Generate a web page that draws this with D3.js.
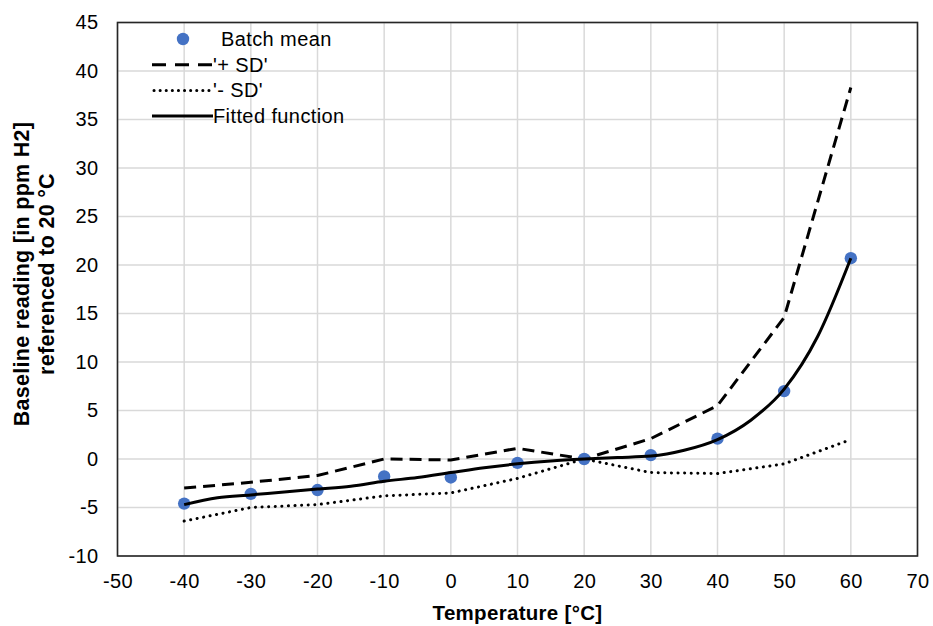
<!DOCTYPE html>
<html>
<head>
<meta charset="utf-8">
<script src="https://cdn.jsdelivr.net/npm/d3@7"></script>
<style>
  body { margin: 0; background: #fff; }
  text { font-family: "Liberation Sans", Arial, sans-serif; fill: #000; }
</style>
</head>
<body>
<div id="chart"></div>
<script>
// data
const temps = [-40, -30, -20, -10, 0, 10, 20, 30, 40, 50, 60];
const batchMean = [-4.6, -3.6, -3.2, -1.8, -1.9, -0.4, 0, 0.4, 2.1, 7.0, 20.7];
const plusSD = [-3.0, -2.4, -1.7, 0.0, -0.1, 1.1, 0, 2.1, 5.5, 14.6, 38.3];
const minusSD = [-6.4, -5.0, -4.7, -3.8, -3.5, -2.0, 0, -1.4, -1.5, -0.5, 2.0];
const fitTemps = [-40, -35, -30, -25, -20, -15, -10, -5, 0, 5, 10, 15, 20, 25, 30, 35, 40, 45, 50, 55, 60];
const fitValues = [-4.7, -4.0, -3.7, -3.4, -3.1, -2.8, -2.3, -1.9, -1.4, -0.9, -0.5, -0.2, 0, 0.15, 0.3, 0.9, 2.0, 4.0, 7.2, 12.6, 20.7];
const xTicks = d3.range(-50, 71, 10);
const yTicks = d3.range(-10, 46, 5);

const W = 933, H = 626;
const margin = {top: 22.5, right: 15.5, bottom: 70, left: 117.5},
    width = W - margin.left - margin.right,
    height = H - margin.top - margin.bottom;

const svg = d3.select("#chart")
    .append("svg")
    .attr("width", W)
    .attr("height", H);

const g = svg.append("g")
    .attr("transform", "translate(" + margin.left + "," + margin.top + ")");

const x = d3.scaleLinear().domain([-50, 70]).range([0, width]);
const y = d3.scaleLinear().domain([-10, 45]).range([height, 0]);

// grid
g.append("g")
    .selectAll("line.vg")
    .data(xTicks)
    .enter().append("line")
    .attr("x1", d => x(d)).attr("x2", d => x(d))
    .attr("y1", 0).attr("y2", height)
    .attr("stroke", "#d9d9d9").attr("stroke-width", 1.5);
g.append("g")
    .selectAll("line.hg")
    .data(yTicks)
    .enter().append("line")
    .attr("y1", d => y(d)).attr("y2", d => y(d))
    .attr("x1", 0).attr("x2", width)
    .attr("stroke", "#d9d9d9").attr("stroke-width", 1.5);

// axes labels (plain hyphen for negatives, like Excel)
const fmt = d => String(d);
const xAxis = g.append("g")
    .attr("transform", "translate(0," + height + ")")
    .call(d3.axisBottom(x).tickValues(xTicks).tickFormat(fmt).tickSize(0).tickPadding(18));
xAxis.select(".domain").remove();
xAxis.selectAll("text").style("font-size", "20px").style("letter-spacing", "0.4px")
    .style("font-family", "Liberation Sans, Arial, sans-serif");

const yAxis = g.append("g")
    .call(d3.axisLeft(y).tickValues(yTicks).tickFormat(fmt).tickSize(0).tickPadding(19));
yAxis.select(".domain").remove();
yAxis.selectAll("text").style("font-size", "20px").style("letter-spacing", "0.4px")
    .style("font-family", "Liberation Sans, Arial, sans-serif");

// border
g.append("rect")
    .attr("width", width).attr("height", height)
    .attr("fill", "none")
    .attr("stroke", "#262626").attr("stroke-width", 1.6);

const line = d3.line().x(d => x(d[0])).y(d => y(d[1]));

g.append("path")
    .datum(d3.zip(temps, minusSD))
    .attr("d", line)
    .attr("fill", "none").attr("stroke", "#000")
    .attr("stroke-width", 3).attr("stroke-linecap", "round")
    .attr("stroke-dasharray", "0.1 6.5");

g.append("path")
    .datum(d3.zip(temps, plusSD))
    .attr("d", line)
    .attr("fill", "none").attr("stroke", "#000")
    .attr("stroke-width", 3)
    .attr("stroke-dasharray", "12 7");

g.selectAll(".dot")
    .data(d3.zip(temps, batchMean))
    .enter().append("circle")
    .attr("class", "dot")
    .attr("cx", d => x(d[0]))
    .attr("cy", d => y(d[1]))
    .attr("r", 6.2)
    .attr("fill", "#4472c4");

g.append("path")
    .datum(d3.zip(fitTemps, fitValues))
    .attr("d", line.curve(d3.curveMonotoneX))
    .attr("fill", "none").attr("stroke", "#000")
    .attr("stroke-width", 3);

// legend
const legend = svg.append("g").attr("transform", "translate(152,39)");
const items = [
    {name: "Batch mean", type: "dot"},
    {name: "'+ SD'", type: "dash"},
    {name: "'- SD'", type: "dotline"},
    {name: "Fitted function", type: "solid"}
];
items.forEach(function (it, i) {
    const row = legend.append("g").attr("transform", "translate(0," + (i * 25.7) + ")");
    if (it.type === "dot") {
        row.append("circle").attr("cx", 31).attr("cy", 0).attr("r", 6.2).attr("fill", "#4472c4");
    } else {
        const l = row.append("line")
            .attr("x1", 0).attr("x2", 61).attr("y1", 0).attr("y2", 0)
            .attr("stroke", "#000").attr("stroke-width", 3);
        if (it.type === "dash") l.attr("stroke-dasharray", "14 9");
        if (it.type === "dotline") l.attr("stroke-dasharray", "0.1 6").attr("stroke-linecap", "round").attr("x1", 2);
    }
    row.append("text")
        .attr("x", it.type === "dot" ? 69 : 61)
        .attr("y", 7)
        .style("font-size", "20px").style("letter-spacing", "0.4px")
        .text(it.name);
});

// axis titles
svg.append("text")
    .attr("x", margin.left + width / 2)
    .attr("y", 620)
    .attr("text-anchor", "middle")
    .style("font-size", "20.5px").style("font-weight", "bold").style("letter-spacing", "0.3px")
    .text("Temperature [°C]");

const yt = svg.append("text")
    .attr("transform", "translate(29,274) rotate(-90)")
    .attr("text-anchor", "middle")
    .style("font-size", "21.5px").style("font-weight", "bold").style("letter-spacing", "0.3px");
yt.append("tspan").attr("x", 0).attr("y", 0).text("Baseline reading [in ppm H2]");
yt.append("tspan").attr("x", 0).attr("y", 25).text("referenced to 20 °C");
</script>
</body>
</html>
